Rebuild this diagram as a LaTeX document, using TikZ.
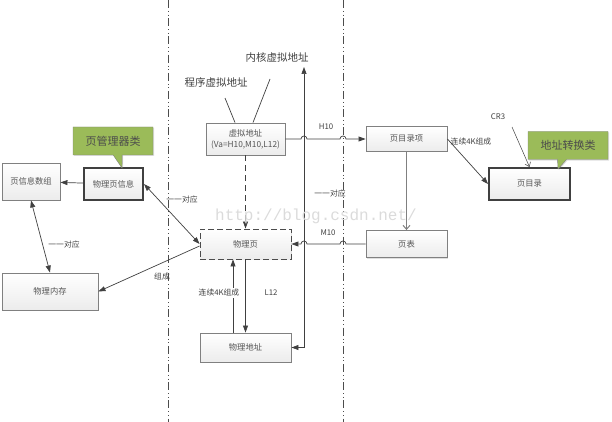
\documentclass[tikz,border=0pt]{standalone}
\usepackage{fontspec}
\setmainfont{Noto Sans CJK SC}
\newfontfamily\wmfont{Liberation Mono}
\usepackage{tikz}
\usetikzlibrary{arrows.meta,shapes.callouts,shadows}
\definecolor{boxline}{RGB}{128,128,128}
\definecolor{olivefill}{RGB}{155,187,89}
\definecolor{txt}{RGB}{85,85,85}

\begin{document}
\begin{tikzpicture}[x=1pt, y=-1pt, >={Triangle[length=7pt,width=5pt]},
  box/.style={draw=boxline, line width=0.9pt, top color=white, bottom color=gray!15, text=txt, inner sep=0pt, align=center,
    font=\fontsize{8.3}{11}\selectfont, drop shadow={shadow xshift=1pt, shadow yshift=-1pt, opacity=0.25}},
  heavy/.style={box, draw=black!75, line width=2pt},
  note/.style={rectangle callout, draw=boxline, fill=olivefill, text=black!70, font=\fontsize{11}{12}\selectfont,
    minimum width=80pt, minimum height=28pt, callout pointer width=9pt, drop shadow={shadow xshift=1pt, shadow yshift=-1pt, opacity=0.25}},
  lbl/.style={text=black!75, font=\fontsize{7.8}{9}\selectfont, inner sep=1pt},
  big/.style={text=black!75, font=\fontsize{10.5}{12}\selectfont},
  conn/.style={draw=black!75, line width=0.7pt},
  sep/.style={draw=black!70, line width=0.8pt, dash pattern=on 8pt off 3pt on 0.6pt off 3pt on 0.6pt off 3pt}]
\useasboundingbox (0,0) rectangle (612,422);

% separators
\draw[sep] (168,0) -- (168,422);
\draw[sep] (343,0) -- (343,422);

% left part
\node[box, minimum width=58pt, minimum height=37pt] (parr) at (31,181.5) {页信息数组};
\node[heavy, minimum width=59pt, minimum height=32pt] (pinfo) at (113.5,184) {物理页信息};
\node[box, minimum width=96pt, minimum height=37pt] (pmem) at (50,291.5) {物理内存};
\node[note, callout absolute pointer={(122,168)}] (mgr) at (113,141) {页管理器类};

% middle part
\node[box, minimum width=79pt, minimum height=32pt] (vaddr) at (245.5,139) {虚拟地址\\(Va=H10,M10,L12)};
\node[box, dashed, dash pattern=on 6pt off 3pt, draw=black!70, minimum width=91pt, minimum height=30pt] (ppage) at (245.5,244) {物理页};
\node[box, minimum width=91pt, minimum height=29pt] (paddr) at (245.5,347.5) {物理地址};
\node[big] (prog) at (216,83) {程序虚拟地址};
\node[big] (kern) at (277,58) {内核虚拟地址};
\coordinate (pl1) at (225,98);
\coordinate (pl2) at (270,79);
\coordinate (ktip) at (304,67);

% right part
\node[box, minimum width=81pt, minimum height=25pt] (pde) at (406.5,139) {页目录项};
\node[box, minimum width=81pt, minimum height=27pt] (ptab) at (406.5,244) {页表};
\node[heavy, minimum width=81pt, minimum height=32pt] (pdir) at (529.5,184) {页目录};
\node[note, callout absolute pointer={(558,169)}] (conv) at (568,145.5) {地址转换类};
\node[lbl] (cr3) at (498,117) {CR3};
\coordinate (cr3t) at (512,127);

% connectors
\draw[conn, ->] (pinfo) -- (parr);
\draw[conn, <->] (parr.south) -- (pmem.north);
\draw[conn, <->] (pinfo.east) -- (ppage.west);
\draw[conn, ->] ([yshift=-2pt]ppage.west) -- (pmem.east);
\draw[conn] (pl1) -- ([xshift=-10.5pt]vaddr.north);
\draw[conn] (pl2) -- ([xshift=7.5pt]vaddr.north);
\draw[conn, ->, dashed, dash pattern=on 6pt off 4pt] (vaddr.south) -- (ppage.north);
\draw[conn, ->] ([xshift=-12.5pt]paddr.north) -- ([xshift=-12.5pt]ppage.south);
\draw[conn, ->] (ppage.south) -- (paddr.north);
\draw[conn, <->] (paddr.east) -| (ktip);
\draw[conn, ->] (vaddr.east) -- (301,139) arc (180:360:3) -- (340,139) arc (180:360:3) -- (pde.west);
\draw[conn, ->] (ptab.west) -- (346,244) arc (360:180:3) -- (307,244) arc (360:180:3) -- (ppage.east);
\draw[draw=gray, line width=1pt, -{Straight Barb[length=4pt,width=7pt]}] (pde.south) -- (ptab.north);
\draw[conn, ->] (pde.east) -- (pdir.west);
\draw[draw=black!75, line width=0.5pt, -{Straight Barb[length=4pt,width=6pt]}] (cr3t) -- (pdir.north);

% labels
\node[lbl] at (182,200) {一一对应};
\node[lbl] at (64,245) {一一对应};
\node[lbl] at (162,277) {组成};
\node[lbl] at (330,194) {一一对应};
\node[lbl, fill=white] at (219,293) {连续4K组成};
\node[lbl] at (271,293) {L12};
\node[lbl] at (326,127) {H10};
\node[lbl] at (328,233) {M10};
\node[lbl] at (471,142) {连续4K组成};

% watermark
\node[text=gray!28, font=\wmfont\fontsize{16}{16}\selectfont] at (316,216) {http://blog.csdn.net/};
\end{tikzpicture}
\end{document}
